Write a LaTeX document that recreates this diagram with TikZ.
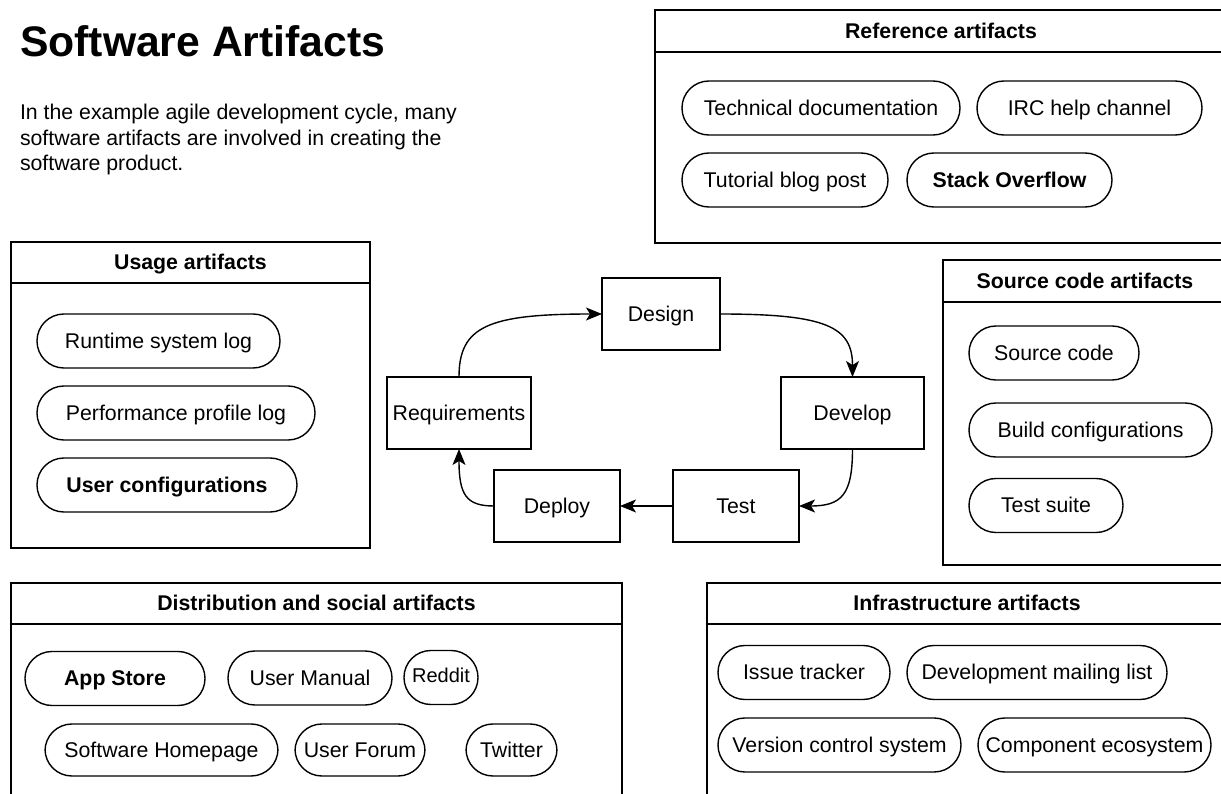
\documentclass[tikz,border=0pt]{standalone}
\usepackage{fontspec}
\setmainfont{Liberation Sans}
\usetikzlibrary{arrows.meta,calc}
\begin{document}
\begin{tikzpicture}[x=1pt,y=-1pt,
  every node/.style={inner sep=0pt, outer sep=0pt},
  txt/.style={font=\fontsize{21.3}{25.6}\selectfont, text height=16pt, text depth=1.8pt},
  boldtxt/.style={font=\fontsize{21.3}{25.6}\selectfont\bfseries, text height=16pt, text depth=1.8pt},
  smalltxt/.style={font=\fontsize{20}{24}\selectfont, text height=14.5pt, text depth=4.5pt},
  pill/.style={draw, line width=1.4pt, rounded corners=26.9pt, minimum height=54pt, txt},
  headbox/.style={draw, line width=1.4pt, anchor=north west, boldtxt},
  bodybox/.style={draw, line width=1.4pt, anchor=north west},
  stagebox/.style={draw, line width=1.4pt, minimum height=72pt, txt},
  flow/.style={line width=1.4pt, -{Stealth[length=16pt,width=13pt,inset=4pt]}}
]
\useasboundingbox (0,0) rectangle (1221,794);
\clip (0,0) rectangle (1221,794);

% title and introduction
\node[anchor=base west, font=\fontsize{42.7}{50}\selectfont\bfseries] (title) at (20,57) {Software Artifacts};
\node[anchor=base west, font=\fontsize{21.3}{25.6}\selectfont] (intro1) at (20,120) {In the example agile development cycle, many};
\node[anchor=base west, font=\fontsize{21.3}{25.6}\selectfont] (intro2) at (20,145.5) {software artifacts are involved in creating the};
\node[anchor=base west, font=\fontsize{21.3}{25.6}\selectfont] (intro3) at (20,171) {software product.};

% reference artifacts
\node[bodybox, minimum width=572pt, minimum height=191pt] (refbody) at (655,52) {};
\node[headbox, minimum width=572pt, minimum height=42pt] (refhead) at (655,10) {Reference artifacts};
\node[pill, minimum width=278pt] (techdoc) at (821,108) {Technical documentation};
\node[pill, minimum width=225pt] (irc) at (1089.5,108) {IRC help channel};
\node[pill, minimum width=206pt] (blog) at (785,180) {Tutorial blog post};
\node[pill, minimum width=205pt, boldtxt] (stack) at (1009.5,180) {Stack Overflow};

% usage artifacts
\node[bodybox, minimum width=359pt, minimum height=265pt] (usebody) at (11,283) {};
\node[headbox, minimum width=359pt, minimum height=41pt] (usehead) at (11,242) {Usage artifacts};
\node[pill, minimum width=243pt] (runlog) at (158.5,341) {Runtime system log};
\node[pill, minimum width=278pt] (perflog) at (176,413) {Performance profile log};
\node[pill, minimum width=260pt, boldtxt] (usercfg) at (167,485) {User configurations};

% source code artifacts
\node[bodybox, minimum width=284pt, minimum height=263pt] (srcbody) at (943,302) {};
\node[headbox, minimum width=284pt, minimum height=42pt] (srchead) at (943,260) {Source code artifacts};
\node[pill, minimum width=170pt] (srccode) at (1054,353) {Source code};
\node[pill, minimum width=243pt] (buildcfg) at (1090.5,430) {Build configurations};
\node[pill, minimum width=154pt] (tests) at (1046,505.5) {Test suite};

% distribution and social artifacts
\node[bodybox, minimum width=611pt, minimum height=200pt] (distbody) at (11,624) {};
\node[headbox, minimum width=611pt, minimum height=41pt] (disthead) at (11,583) {Distribution and social artifacts};
\node[pill, minimum width=180pt, boldtxt] (appstore) at (115,678.5) {App Store};
\node[pill, minimum width=164pt] (manual) at (310,678) {User Manual};
\node[pill, minimum width=74pt, smalltxt] (reddit) at (441,677.5) {Reddit};
\node[pill, minimum width=233pt, minimum height=52pt] (homepage) at (161.5,750) {Software Homepage};
\node[pill, minimum width=130pt, minimum height=52pt] (forum) at (360,750) {User Forum};
\node[pill, minimum width=91pt, minimum height=52pt] (twitter) at (511.5,750) {Twitter};

% infrastructure artifacts
\node[bodybox, minimum width=520pt, minimum height=200pt] (infbody) at (707,624) {};
\node[headbox, minimum width=520pt, minimum height=41pt] (infhead) at (707,583) {Infrastructure artifacts};
\node[pill, minimum width=172pt] (issues) at (804,672.5) {Issue tracker};
\node[pill, minimum width=260pt] (mailing) at (1037,672.5) {Development mailing list};
\node[pill, minimum width=243pt] (vcs) at (839.5,745) {Version control system};
\node[pill, minimum width=233pt] (ecosys) at (1094.5,745) {Component ecosystem};

% development cycle
\node[stagebox, minimum width=118pt] (design) at (661,314) {Design};
\node[stagebox, minimum width=144pt] (req) at (459,413) {Requirements};
\node[stagebox, minimum width=143pt] (develop) at (852.5,413) {Develop};
\node[stagebox, minimum width=126pt] (test) at (736,506) {Test};
\node[stagebox, minimum width=126pt] (deploy) at (557,506) {Deploy};

% curved connectors bend round the corner between the two anchors
\coordinate (c1) at (req.north |- design.west);
\coordinate (c2) at (develop.north |- design.east);
\coordinate (c3) at (develop.south |- test.east);
\coordinate (c4) at (req.south |- deploy.west);
\draw[flow] (req.north) .. controls ($(req.north)!0.8!(c1)$) and ($(design.west)!0.8!(c1)$) .. (design.west);
\draw[flow] (design.east) .. controls ($(design.east)!0.8!(c2)$) and ($(develop.north)!0.8!(c2)$) .. (develop.north);
\draw[flow] (develop.south) .. controls ($(develop.south)!0.8!(c3)$) and ($(test.east)!0.8!(c3)$) .. (test.east);
\draw[flow] (test.west) -- (deploy.east);
\draw[flow] (deploy.west) .. controls ($(deploy.west)!0.8!(c4)$) and ($(req.south)!0.8!(c4)$) .. (req.south);
\end{tikzpicture}
\end{document}
